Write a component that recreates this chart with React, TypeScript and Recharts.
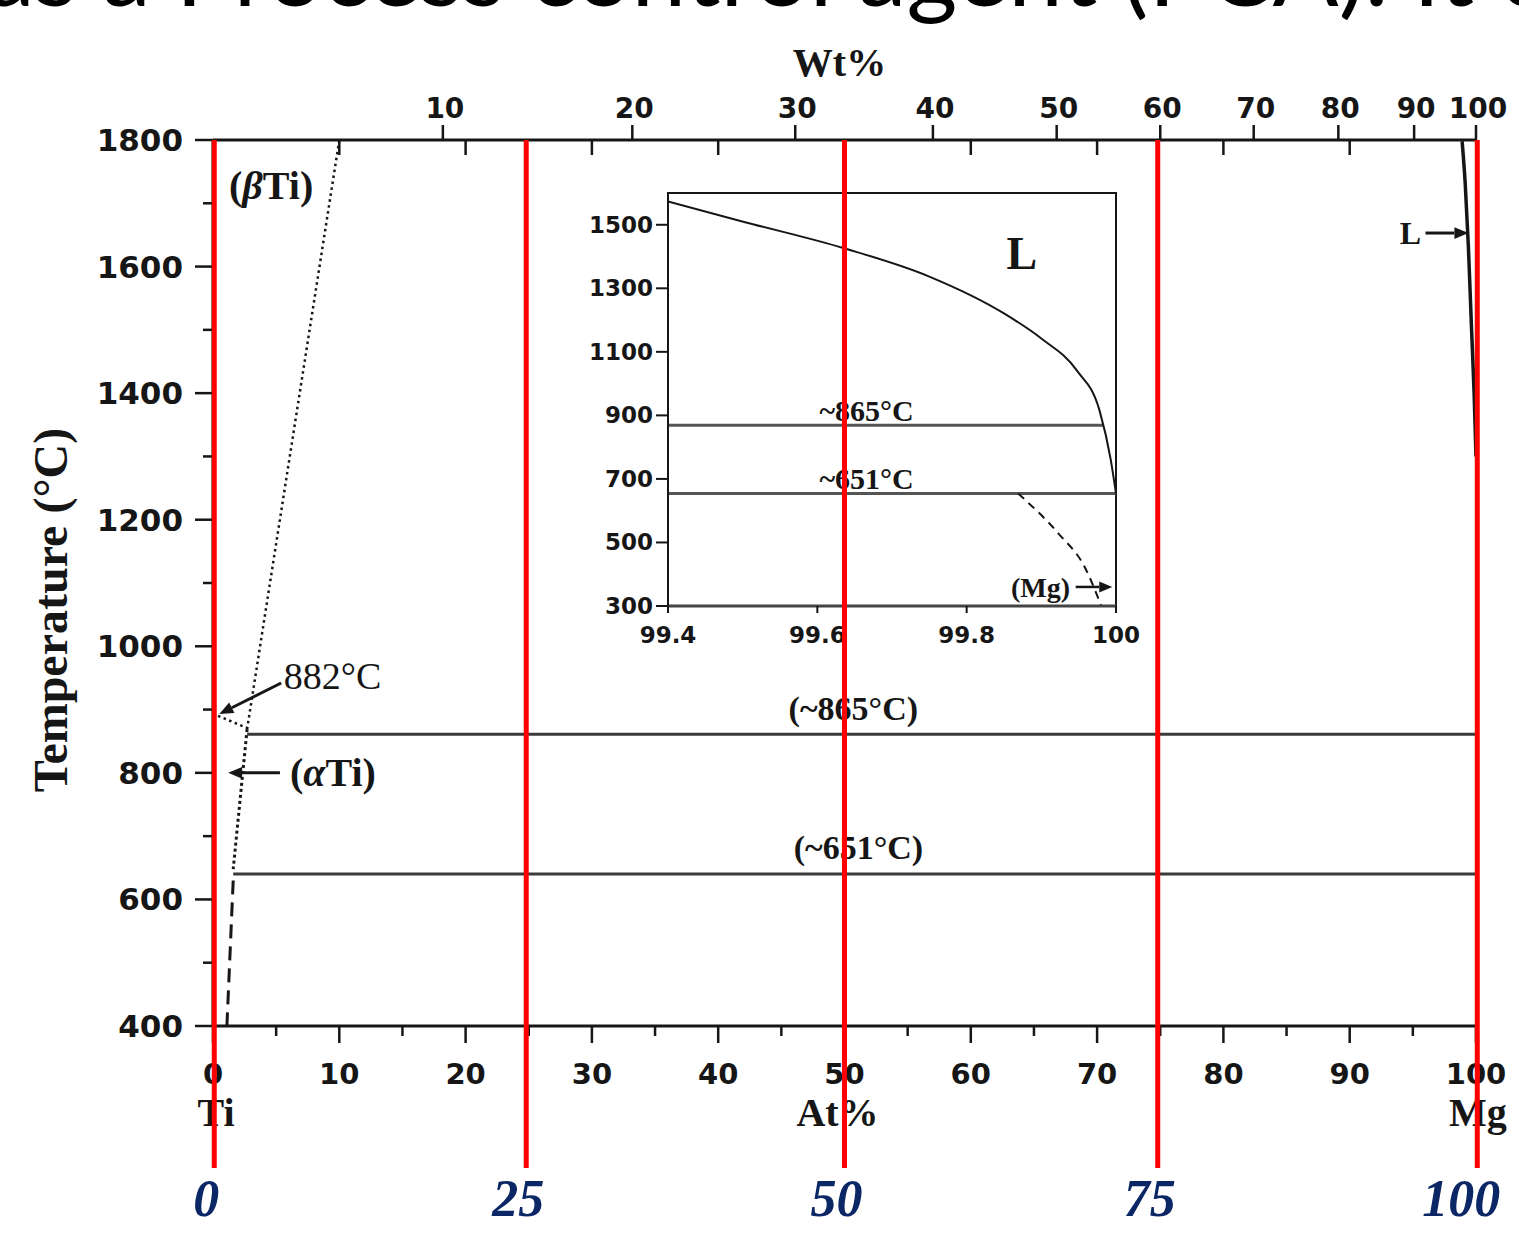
import React from 'react';
import {
  ComposedChart,
  Line,
  XAxis,
  YAxis,
  ReferenceLine,
  ReferenceDot,
  ReferenceArea,
} from 'recharts';

const W = 1519;
const H = 1237;
const SERIF = '"Liberation Serif", "Times New Roman", serif';
const SANS = '"DejaVu Sans", Arial, sans-serif';
const INK = '#161616';
const LINE_GRAY = '#3a3a3a';
const NAVY = '#0c2766';

// main diagram: At% Mg vs temperature
const tempTicks = [400, 500, 600, 700, 800, 900, 1000, 1100, 1200, 1300, 1400, 1500, 1600, 1700, 1800];
const atTicks = [0, 5, 10, 15, 20, 25, 30, 35, 40, 45, 50, 55, 60, 65, 70, 75, 80, 85, 90, 95, 100];
const atInnerTopTicks = [10, 20, 30, 40, 50, 60, 70, 80, 90];
// Wt% ticks on the top axis, read as At% positions
const wtTickPos = [18.2, 33.2, 46.1, 57.0, 66.8, 75.0, 82.4, 89.1, 95.1, 100];
const wtTickLabels = ['10', '20', '30', '40', '50', '60', '70', '80', '90', '100'];
// invisible span so that axes without a visible series still get a scale
const axisSpan = [{ at: 0, t: 1800 }, { at: 100, t: 1800 }];

const betaTransus = [{ at: 10.0, t: 1800 }, { at: 2.7, t: 869 }];
const tiTransform = [{ at: 0.4, t: 890 }, { at: 2.7, t: 871 }];
const alphaSolvus = [{ at: 2.7, t: 869 }, { at: 1.6, t: 648 }];
const alphaSolvusLow = [{ at: 1.6, t: 630 }, { at: 1.1, t: 400 }];
const iso865 = [{ at: 2.7, t: 861 }, { at: 100, t: 861 }];
const iso651 = [{ at: 1.6, t: 640 }, { at: 100, t: 640 }];
const mgLiquidus = [
  { at: 98.9, t: 1798 },
  { at: 99.15, t: 1730 },
  { at: 99.4, t: 1630 },
  { at: 99.65, t: 1500 },
  { at: 99.85, t: 1400 },
  { at: 100, t: 1300 },
];

const mainNoteText = ['(βTi)', '882°C', '(αTi)', '(~865°C)', '(~651°C)', 'L'];
const mainNoteAt = [4.6, 5.6, 6.1, 50.7, 51.1, 94.8];
const mainNoteT = [1729, 953, 801, 903, 683, 1653];
const mainNoteStyle = [
  { size: 40, anchor: 'middle', weight: 'bold' },
  { size: 38, anchor: 'start', weight: 'normal' },
  { size: 40, anchor: 'start', weight: 'bold' },
  { size: 34, anchor: 'middle', weight: 'bold' },
  { size: 34, anchor: 'middle', weight: 'bold' },
  { size: 32, anchor: 'middle', weight: 'bold' },
];

const mainArrowFrom = [{ at: 5.4, t: 942 }, { at: 5.3, t: 800 }, { at: 96.0, t: 1653 }];
const mainArrowTo = [{ at: 0.5, t: 893 }, { at: 1.2, t: 800 }, { at: 99.4, t: 1653 }];

// inset: Mg-rich corner
const insetTempTicks = [300, 500, 700, 900, 1100, 1300, 1500];
const insetAtTicks = [99.4, 99.6, 99.8, 100];
const insetLiquidus = [
  { at: 99.4, t: 1573 },
  { at: 99.502, t: 1509 },
  { at: 99.636, t: 1426 },
  { at: 99.75, t: 1337 },
  { at: 99.85, t: 1221 },
  { at: 99.9, t: 1142 },
  { at: 99.948, t: 1040 },
  { at: 99.978, t: 915 },
  { at: 99.993, t: 760 },
  { at: 100, t: 654 },
];
const insetIso865 = [{ at: 99.4, t: 869 }, { at: 99.983, t: 869 }];
const insetIso651 = [{ at: 99.4, t: 654 }, { at: 100, t: 654 }];
const insetMgSolvus = [
  { at: 99.869, t: 654 },
  { at: 99.923, t: 528 },
  { at: 99.958, t: 423 },
  { at: 99.98, t: 302 },
];
const insetNoteText = ['~865°C', '~651°C', 'L', '(Mg)'];
const insetNoteAt = [99.666, 99.666, 99.874, 99.899];
const insetNoteT = [917, 703, 1411, 360];
const insetNoteSize = [30, 30, 46, 28];
const insetArrowFrom = { at: 99.946, t: 360 };
const insetArrowTo = { at: 99.995, t: 360 };

// red guide lines drawn over the figure
const markerPos = [0.1, 24.8, 50, 74.8, 100.1];
const markerLabels = ['0', '25', '50', '75', '100'];

const headline = 'as a Process control agent (PCA). It c';

function renderGreek(text: string) {
  return text.split(/([α-ω])/).filter(Boolean).map((s, i) =>
    /[α-ω]/.test(s) ? (
      <tspan key={i} fontStyle="italic">{s}</tspan>
    ) : (
      <tspan key={i}>{s}</tspan>
    )
  );
}

function TempTick({ x, y, payload }: any) {
  const v = payload.value;
  const major = v % 200 === 0;
  return (
    <g>
      <line x1={x - (major ? 18 : 10)} y1={y} x2={x} y2={y} stroke={INK} strokeWidth={2.5} />
      {major && (
        <text x={x - 30} y={y} dy={11} textAnchor="end" fontFamily={SANS} fontWeight="bold" fontSize={31} fill={INK}>
          {v}
        </text>
      )}
    </g>
  );
}

function AtTick({ x, y, payload }: any) {
  const v = payload.value;
  const major = v % 10 === 0;
  return (
    <g>
      <line x1={x} y1={y} x2={x} y2={y + (major ? 17 : 10)} stroke={INK} strokeWidth={2.5} />
      {major && (
        <text x={x} y={y + 58} textAnchor="middle" fontFamily={SANS} fontWeight="bold" fontSize={29} fill={INK}>
          {v}
        </text>
      )}
      {v === 0 && (
        <text x={x + 3} y={y + 100} textAnchor="middle" fontFamily={SERIF} fontWeight="bold" fontSize={40} fill={INK}>
          Ti
        </text>
      )}
      {v === 100 && (
        <text x={x + 2} y={y + 100} textAnchor="middle" fontFamily={SERIF} fontWeight="bold" fontSize={40} fill={INK}>
          Mg
        </text>
      )}
    </g>
  );
}

function WtTick({ x, y, payload }: any) {
  const idx = wtTickPos.indexOf(payload.value);
  return (
    <g>
      <line x1={x} y1={y} x2={x} y2={y - 15} stroke={INK} strokeWidth={2.5} />
      <text x={x + 2} y={y - 22} textAnchor="middle" fontFamily={SANS} fontWeight="bold" fontSize={28} fill={INK}>
        {wtTickLabels[idx] ?? ''}
      </text>
    </g>
  );
}

const InnerTopTick = (props: any) => {
  const top = Math.min(props.y1, props.y2);
  return <line x1={props.x1} y1={top} x2={props.x1} y2={top + 15} stroke={INK} strokeWidth={2.5} />;
};

const ArrowShape = (props: any) => {
  const { x1, y1, x2, y2 } = props;
  const ang = Math.atan2(y2 - y1, x2 - x1);
  const len = props.head ?? 14;
  const half = len * 0.42;
  const bx = x2 - len * Math.cos(ang);
  const by = y2 - len * Math.sin(ang);
  const px = -Math.sin(ang) * half;
  const py = Math.cos(ang) * half;
  return (
    <g>
      <line x1={x1} y1={y1} x2={bx} y2={by} stroke={INK} strokeWidth={props.w ?? 3} />
      <polygon points={`${x2},${y2} ${bx + px},${by + py} ${bx - px},${by - py}`} fill={INK} />
    </g>
  );
};

function noteShape(text: string, size: number, anchor: string, weight: string) {
  return (p: any) => (
    <text
      x={p.cx}
      y={p.cy}
      dominantBaseline="central"
      textAnchor={anchor as any}
      fontFamily={SERIF}
      fontWeight={weight}
      fontSize={size}
      fill={INK}
    >
      {renderGreek(text)}
    </text>
  );
}

function MainChart() {
  return (
    <ComposedChart width={W} height={H} margin={{ top: 80, right: 43, bottom: 151, left: 113 }}>
      <XAxis
        xAxisId="at"
        dataKey="at"
        type="number"
        domain={[0, 100]}
        allowDataOverflow
        ticks={atTicks}
        interval={0}
        tickLine={false}
        tickSize={0}
        tickMargin={0}
        tick={(p: any) => <AtTick {...p} />}
        axisLine={{ stroke: INK, strokeWidth: 3 }}
        height={60}
        label={(p: any) => {
          const vb = p.viewBox ?? { x: 0, y: 0, width: 0, height: 0 };
          return (
            <text x={vb.x + vb.width / 2 - 7} y={vb.y + 100} textAnchor="middle" fontFamily={SERIF} fontWeight="bold" fontSize={40} fill={INK}>
              At%
            </text>
          );
        }}
      />
      <XAxis
        xAxisId="wt"
        dataKey="at"
        orientation="top"
        type="number"
        domain={[0, 100]}
        allowDataOverflow
        ticks={wtTickPos}
        interval={0}
        tickLine={false}
        tickSize={0}
        tickMargin={0}
        tick={(p: any) => <WtTick {...p} />}
        axisLine={{ stroke: INK, strokeWidth: 3 }}
        height={60}
        label={(p: any) => {
          const vb = p.viewBox ?? { x: 0, y: 0, width: 0, height: 0 };
          return (
            <text x={vb.x + vb.width / 2 - 5} y={vb.y - 4} textAnchor="middle" fontFamily={SERIF} fontWeight="bold" fontSize={40} fill={INK}>
              Wt%
            </text>
          );
        }}
      />
      <YAxis
        yAxisId="t"
        type="number"
        domain={[400, 1800]}
        allowDataOverflow
        ticks={tempTicks}
        interval={0}
        tickLine={false}
        tickSize={0}
        tickMargin={0}
        tick={(p: any) => <TempTick {...p} />}
        axisLine={{ stroke: INK, strokeWidth: 3 }}
        width={100}
        label={(p: any) => {
          const vb = p.viewBox ?? { x: 0, y: 0, width: 0, height: 0 };
          const cx = vb.x - 63;
          const cy = vb.y + vb.height / 2 + 27;
          return (
            <text
              transform={`translate(${cx}, ${cy}) rotate(-90)`}
              textAnchor="middle"
              dominantBaseline="central"
              fontFamily={SERIF}
              fontWeight="bold"
              fontSize={48}
              fill={INK}
            >
              Temperature (°C)
            </text>
          );
        }}
      />

      <Line data={axisSpan} dataKey="t" xAxisId="wt" yAxisId="t" stroke="none" dot={false} isAnimationActive={false} />

      {atInnerTopTicks.map((a) => (
        <ReferenceLine key={`in${a}`} x={a} xAxisId="at" yAxisId="t" shape={InnerTopTick} />
      ))}

      <Line data={betaTransus} dataKey="t" xAxisId="at" yAxisId="t" type="linear" stroke={INK} strokeWidth={2.5} strokeDasharray="2.5 3.5" dot={false} isAnimationActive={false} />
      <Line data={tiTransform} dataKey="t" xAxisId="at" yAxisId="t" type="linear" stroke={INK} strokeWidth={2.5} strokeDasharray="2.5 3.5" dot={false} isAnimationActive={false} />
      <Line data={alphaSolvus} dataKey="t" xAxisId="at" yAxisId="t" type="linear" stroke={INK} strokeWidth={3} strokeDasharray="3 3" dot={false} isAnimationActive={false} />
      <Line data={alphaSolvusLow} dataKey="t" xAxisId="at" yAxisId="t" type="linear" stroke={INK} strokeWidth={3} strokeDasharray="14 8" dot={false} isAnimationActive={false} />
      <Line data={iso865} dataKey="t" xAxisId="at" yAxisId="t" type="linear" stroke={LINE_GRAY} strokeWidth={3} dot={false} isAnimationActive={false} />
      <Line data={iso651} dataKey="t" xAxisId="at" yAxisId="t" type="linear" stroke={LINE_GRAY} strokeWidth={3} dot={false} isAnimationActive={false} />
      <Line data={mgLiquidus} dataKey="t" xAxisId="at" yAxisId="t" type="monotone" stroke={INK} strokeWidth={3.5} dot={false} isAnimationActive={false} />

      {mainArrowFrom.map((f, i) => (
        <ReferenceLine
          key={`ar${i}`}
          xAxisId="at"
          yAxisId="t"
          segment={[{ x: f.at, y: f.t }, { x: mainArrowTo[i].at, y: mainArrowTo[i].t }]}
          shape={ArrowShape}
        />
      ))}

      {mainNoteText.map((txt, i) => (
        <ReferenceDot
          key={`n${i}`}
          xAxisId="at"
          yAxisId="t"
          x={mainNoteAt[i]}
          y={mainNoteT[i]}
          r={0}
          shape={noteShape(txt, mainNoteStyle[i].size, mainNoteStyle[i].anchor, mainNoteStyle[i].weight)}
        />
      ))}
    </ComposedChart>
  );
}

function InsetTempTick({ x, y, payload }: any) {
  return (
    <g>
      <line x1={x - 12} y1={y} x2={x} y2={y} stroke={INK} strokeWidth={2} />
      <text x={x - 15} y={y} dy={8} textAnchor="end" fontFamily={SANS} fontWeight="bold" fontSize={23} fill={INK}>
        {payload.value}
      </text>
    </g>
  );
}

function InsetAtTick({ x, y, payload }: any) {
  return (
    <g>
      <line x1={x} y1={y} x2={x} y2={y + 7} stroke={INK} strokeWidth={2} />
      <text x={x} y={y + 37} textAnchor="middle" fontFamily={SANS} fontWeight="bold" fontSize={23} fill={INK}>
        {payload.value}
      </text>
    </g>
  );
}

function InsetChart() {
  return (
    <ComposedChart width={600} height={480} margin={{ top: 13, right: 44, bottom: 14, left: 48 }}>
      <XAxis
        xAxisId="at"
        dataKey="at"
        type="number"
        domain={[99.4, 100]}
        allowDataOverflow
        ticks={insetAtTicks}
        interval={0}
        tickLine={false}
        tickSize={0}
        tickMargin={0}
        tick={(p: any) => <InsetAtTick {...p} />}
        axisLine={{ stroke: '#444', strokeWidth: 3 }}
        height={40}
      />
      <YAxis
        yAxisId="t"
        type="number"
        domain={[300, 1600]}
        allowDataOverflow
        ticks={insetTempTicks}
        interval={0}
        tickLine={false}
        tickSize={0}
        tickMargin={0}
        tick={(p: any) => <InsetTempTick {...p} />}
        axisLine={{ stroke: INK, strokeWidth: 2 }}
        width={60}
      />
      <ReferenceArea xAxisId="at" yAxisId="t" x1={99.4} x2={100} y1={300} y2={1600} fill="none" stroke={INK} strokeWidth={2} />

      <Line data={insetIso865} dataKey="t" xAxisId="at" yAxisId="t" type="linear" stroke="#555" strokeWidth={3} dot={false} isAnimationActive={false} />
      <Line data={insetIso651} dataKey="t" xAxisId="at" yAxisId="t" type="linear" stroke="#555" strokeWidth={3} dot={false} isAnimationActive={false} />
      <Line data={insetLiquidus} dataKey="t" xAxisId="at" yAxisId="t" type="monotone" stroke={INK} strokeWidth={2} dot={false} isAnimationActive={false} />
      <Line data={insetMgSolvus} dataKey="t" xAxisId="at" yAxisId="t" type="monotone" stroke={INK} strokeWidth={2} strokeDasharray="8 6" dot={false} isAnimationActive={false} />

      <ReferenceLine
        xAxisId="at"
        yAxisId="t"
        segment={[{ x: insetArrowFrom.at, y: insetArrowFrom.t }, { x: insetArrowTo.at, y: insetArrowTo.t }]}
        shape={(p: any) => <ArrowShape {...p} head={13} w={2.5} />}
      />

      {insetNoteText.map((txt, i) => (
        <ReferenceDot
          key={`in${i}`}
          xAxisId="at"
          yAxisId="t"
          x={insetNoteAt[i]}
          y={insetNoteT[i]}
          r={0}
          shape={noteShape(txt, insetNoteSize[i], 'middle', 'bold')}
        />
      ))}
    </ComposedChart>
  );
}

function markerShape(label: string) {
  return (p: any) => {
    const top = Math.min(p.y1, p.y2);
    const bottom = Math.max(p.y1, p.y2) + 142;
    return (
      <g>
        <line x1={p.x1} y1={top} x2={p.x1} y2={bottom} stroke="#ff0000" strokeWidth={5} />
        <text
          x={p.x1 - (label.length > 2 ? 16 : 8)}
          y={bottom + 48}
          textAnchor="middle"
          fontFamily={SERIF}
          fontWeight="bold"
          fontStyle="italic"
          fontSize={52}
          fill={NAVY}
        >
          {label}
        </text>
      </g>
    );
  };
}

function MarkerOverlay() {
  return (
    <ComposedChart width={W} height={H} margin={{ top: 140, right: 43, bottom: 211, left: 213 }}>
      <XAxis xAxisId="at" dataKey="at" type="number" domain={[0, 100]} allowDataOverflow hide />
      <YAxis yAxisId="t" type="number" domain={[400, 1800]} allowDataOverflow hide />
      <Line data={axisSpan} dataKey="t" xAxisId="at" yAxisId="t" stroke="none" dot={false} isAnimationActive={false} />
      {markerPos.map((pos, i) => (
        <ReferenceLine
          key={`m${i}`}
          xAxisId="at"
          yAxisId="t"
          x={pos}
          ifOverflow="visible"
          shape={markerShape(markerLabels[i])}
        />
      ))}
    </ComposedChart>
  );
}

export default function App() {
  return (
    <div style={{ position: 'absolute', left: 0, top: 0, width: W, height: H, background: '#fff', overflow: 'hidden' }}>
      <svg style={{ position: 'absolute', left: 0, top: 0 }} width={W} height={40}>
        <text
          x={-14}
          y={6}
          fontFamily='Lato, "Open Sans", sans-serif'
          fontSize={96}
          textLength={1560}
          lengthAdjust="spacingAndGlyphs"
          fill="#000"
        >
          {headline}
        </text>
      </svg>
      <div style={{ position: 'absolute', left: 0, top: 0 }}>
        <MainChart />
      </div>
      <div style={{ position: 'absolute', left: 560, top: 180 }}>
        <InsetChart />
      </div>
      <div style={{ position: 'absolute', left: 0, top: 0, pointerEvents: 'none' }}>
        <MarkerOverlay />
      </div>
    </div>
  );
}
